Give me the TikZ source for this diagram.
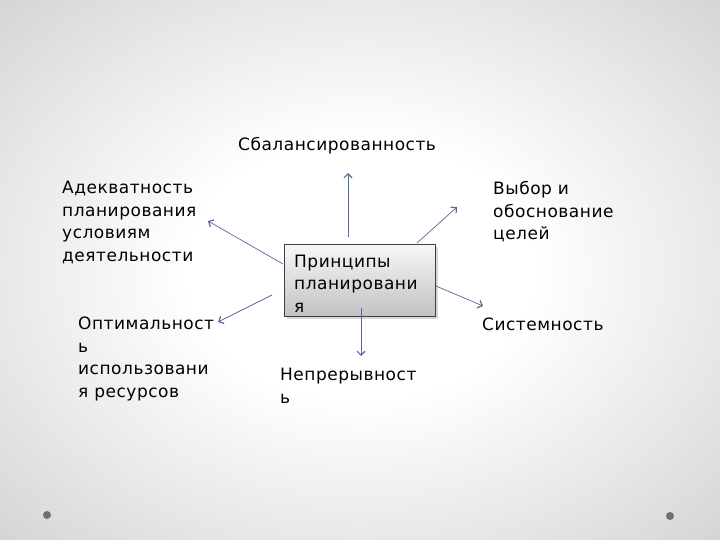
\documentclass[tikz,border=0pt]{standalone}
\usepackage{fontspec}
\setmainfont{DejaVu Sans}[LetterSpace=3]
\usetikzlibrary{arrows.meta,positioning,shadows}

\definecolor{linkblue}{RGB}{86,104,158}
\definecolor{dotgray}{RGB}{112,112,112}
\pgfdeclareradialshading{slidebg}{\pgfpoint{0bp}{0bp}}{color(0bp)=(white); color(12bp)=(white); color(25bp)=(gray!18); color(36bp)=(gray!34); color(50bp)=(gray!34)}

\begin{document}
\begin{tikzpicture}[x=1pt,y=-1pt,
    principle/.style={anchor=base west,inner sep=0pt,align=left,font=\fontsize{17}{22.5}\selectfont},
    centerbox/.style={draw=black!75,top color=gray!6,bottom color=gray!48,
      minimum width=151pt,minimum height=72pt,
      drop shadow={shadow xshift=3pt,shadow yshift=-3pt,fill=gray!60,opacity=0.5}},
    link/.style={linkblue,line width=0.7pt,-{Straight Barb[length=4pt,width=8pt,line width=1.2pt]}}]
	\useasboundingbox (0,0) rectangle (720,540);
	\shade[shading=slidebg] (0,0) rectangle (720,540);
	\fill[dotgray] (47,515) circle (4);
	\fill[dotgray] (670,516) circle (4);

	% center (base anchor sits on the last line)
	\node[centerbox] (box) at (359.5,280) {};
	\node[principle] (title) at (294,312) {Принципы\\планировани\\я};

	% principles
	\node[principle] (balance) at (238,151) {Сбалансированность};
	\node[principle] (goals) at (493,240) {Выбор и\\обоснование\\целей};
	\node[principle] (adequacy) at (62,261) {Адекватность\\планирования\\условиям\\деятельности};
	\node[principle] (system) at (482,330) {Системность};
	\node[principle] (optimal) at (78,397) {Оптимальност\\ь\\использовани\\я ресурсов};
	\node[principle] (continuity) at (280,403) {Непрерывност\\ь};

	% arrow ends
	\coordinate (upS) at (348,237);     \coordinate (upT) at (348,173);
	\coordinate (urS) at (417,243);     \coordinate (urT) at (457,207);
	\coordinate (ulS) at (283,264);     \coordinate (ulT) at (208,221);
	\coordinate (dlS) at (272,295);     \coordinate (dlT) at (218,322);
	\coordinate (dnS) at (361,308);     \coordinate (dnT) at (361,356);
	\coordinate (rtS) at (436,286);     \coordinate (rtT) at (483,306);

	\draw[link] (upS) -- (upT);
	\draw[link] (urS) -- (urT);
	\draw[link] (ulS) -- (ulT);
	\draw[link] (dlS) -- (dlT);
	\draw[link] (dnS) -- (dnT);
	\draw[link] (rtS) -- (rtT);
\end{tikzpicture}
\end{document}
